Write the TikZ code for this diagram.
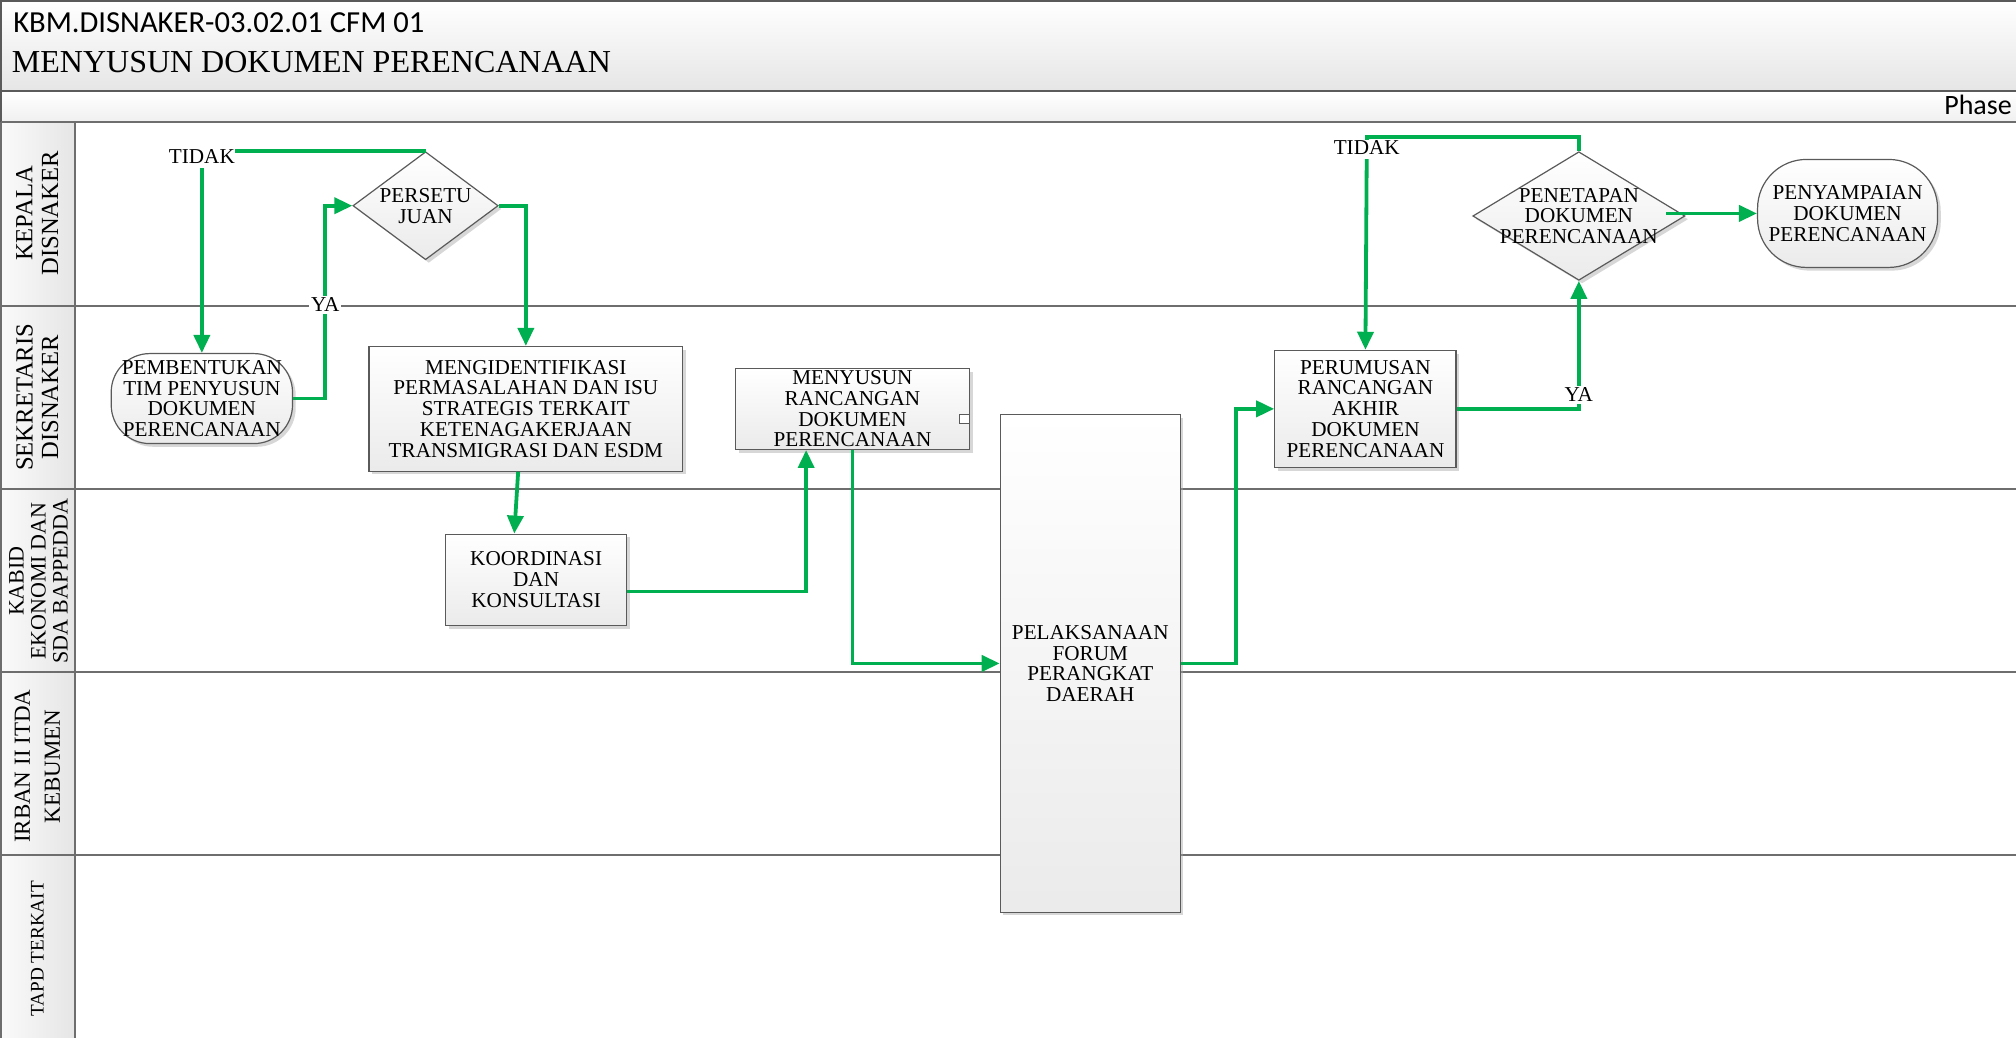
\documentclass[tikz,border=0pt]{standalone}
\usepackage{fontspec}
\setmainfont{Liberation Serif}
\newfontfamily\headsans{Carlito}
\usetikzlibrary{shapes.geometric,shadows,arrows.meta,calc}
\newdimen\pxu
\pxu=0.643pt
\definecolor{flowgreen}{HTML}{00B050}
\definecolor{boxedge}{HTML}{5A5A5A}
\definecolor{laneedge}{HTML}{6E6E6E}
\newcommand{\nodetext}{\fontsize{10.6}{10.4}\selectfont}
\tikzset{
  x=0.643pt, y=-0.643pt,
  softshadow/.style={drop shadow={shadow xshift=1.6pt, shadow yshift=-1.6pt, fill=black!35, opacity=0.45}},
  boxfill/.style={top color=white, bottom color=black!8, draw=boxedge, line width=0.6pt},
  stepbox/.style={rectangle, boxfill, softshadow, align=center, inner sep=0pt, font=\nodetext},
  terminal/.style={stepbox, rounded corners=#1},
  decision/.style={diamond, boxfill, softshadow, inner sep=0pt},
  flow/.style={draw=flowgreen, line width=1.9pt, -{Triangle[length=9pt,width=8pt]}},
  flowplain/.style={draw=flowgreen, line width=1.9pt},
  flowlabel/.style={font=\nodetext, inner sep=1pt},
  lanename/.style={rotate=90, align=center, inner sep=0pt},
  laneline/.style={draw=laneedge, line width=1pt},
}
\begin{document}
\begin{tikzpicture}
\useasboundingbox (0,0) rectangle (1568,807);

% header band and phase bar
\path[top color=white, bottom color=black!10, draw=boxedge, line width=1.2pt] (1,1) rectangle (1590,71);
\path[top color=white, bottom color=black!6, draw=boxedge, line width=1.2pt] (1,71) rectangle (1590,95);
\node[anchor=base west, inner sep=0pt, font=\headsans\fontsize{15.3}{16}\selectfont] (code) at (10,25) {KBM.DISNAKER-03.02.01 CFM 01};
\node[anchor=base west, inner sep=0pt, font=\fontsize{16}{18}\selectfont] (title) at (9,56) {MENYUSUN DOKUMEN PERENCANAAN};
\node[anchor=base east, inner sep=0pt, font=\headsans\fontsize{14}{16}\selectfont] (phase) at (1565,89) {Phase};

% swimlanes
\path[left color=black!2, right color=black!10] (1,95) rectangle (58,810);
\foreach \yy in {95,238,380,523,665} {\draw[laneline] (1,\yy) -- (1590,\yy);}
\draw[laneline] (58,95) -- (58,810);
\draw[laneline] (1,95) -- (1,810);

\node[lanename, font=\fontsize{12.3}{12.8}\selectfont] (lane1) at (29,166) {KEPALA\\DISNAKER};
\node[lanename, font=\fontsize{12.3}{12.8}\selectfont] (lane2) at (29,309) {SEKRETARIS\\DISNAKER};
\node[lanename, font=\fontsize{11}{11}\selectfont] (lane3) at (30,452) {KABID\\EKONOMI DAN\\SDA BAPPEDDA};
\node[lanename, font=\fontsize{11.5}{15}\selectfont] (lane4) at (29,596) {IRBAN II ITDA\\KEBUMEN};
\node[lanename, font=\fontsize{9.6}{11}\selectfont] (lane5) at (29,738) {TAPD TERKAIT};

% process steps
\node[terminal=30\pxu, minimum width=141\pxu, minimum height=70\pxu] (pemb) at (157,310)
  {PEMBENTUKAN\\TIM PENYUSUN\\DOKUMEN\\PERENCANAAN};
\node[decision, minimum width=113\pxu, minimum height=84\pxu,
  label={[font=\nodetext, align=center]center:PERSETU\\JUAN}] (pers) at (331,160) {};
\node[stepbox, minimum width=244\pxu, minimum height=97\pxu] (ident) at (409,318)
  {MENGIDENTIFIKASI\\PERMASALAHAN DAN ISU\\STRATEGIS TERKAIT\\KETENAGAKERJAAN\\TRANSMIGRASI DAN ESDM};
\node[stepbox, minimum width=141\pxu, minimum height=71\pxu] (koord) at (417,451)
  {KOORDINASI\\DAN\\KONSULTASI};
\node[stepbox, minimum width=182\pxu, minimum height=63\pxu] (menyus) at (663,318)
  {MENYUSUN\\RANCANGAN\\DOKUMEN\\PERENCANAAN};
\node[draw=boxedge, fill=white, line width=0.5pt, minimum width=8\pxu, minimum height=7\pxu, inner sep=0pt,
  anchor=east] (mark) at ($(menyus.east)+(0,8)$) {};
\node[stepbox, minimum width=140\pxu, minimum height=387\pxu] (pelak) at (848,516)
  {PELAKSANAAN\\FORUM\\PERANGKAT\\DAERAH};
\node[stepbox, minimum width=141\pxu, minimum height=91\pxu] (perum) at (1062,318)
  {PERUMUSAN\\RANCANGAN\\AKHIR\\DOKUMEN\\PERENCANAAN};
\node[decision, minimum width=165\pxu, minimum height=100\pxu,
  label={[font=\nodetext, align=center]center:PENETAPAN\\DOKUMEN\\PERENCANAAN}] (penet) at (1228,168) {};
\node[terminal=38\pxu, minimum width=140\pxu, minimum height=84\pxu] (penya) at (1437,166)
  {PENYAMPAIAN\\DOKUMEN\\PERENCANAAN};

% branch labels
\node[flowlabel, inner sep=0pt] (tidak1) at (157,122) {TIDAK};
\node[flowlabel, inner sep=0pt] (tidak2) at (1063,115) {TIDAK};

% connectors
\draw[flow] (pemb.east) -- ++(25,0) |- (pers.west);
\draw[flowplain] (pers.north) -- (pers.north -| tidak1.east);
\draw[flow] ($(tidak1.south)+(0,3)$) -- (pemb.north);
\draw[flow] (pers.east) -| (ident.north);
\draw[flow] ($(ident.south)+(-6,0)$) -- ($(koord.north)+(-17,0)$);
\draw[flow] ($(koord.east)+(0,9)$) -| ($(menyus.south)+(-36,0)$);
\draw[flow] (menyus.south) |- (pelak.west);
\draw[flow] (pelak.east) -- ++(43,0) |- (perum.west);
\draw[flow] (perum.east) -| (penet.south);
\draw[flowplain] (penet.north) -- ++(0,-11) -| (tidak2.north);
\draw[flow] ($(tidak2.south)+(0,3)$) -- (perum.north);
\draw[flow] ($(penet.east)+(-15,-2)$) -- (penya.west);

\node[flowlabel, fill=white] (ya1) at (253,237) {YA};
\node[flowlabel, fill=white] (ya2) at (1228,307) {YA};
\end{tikzpicture}
\end{document}
